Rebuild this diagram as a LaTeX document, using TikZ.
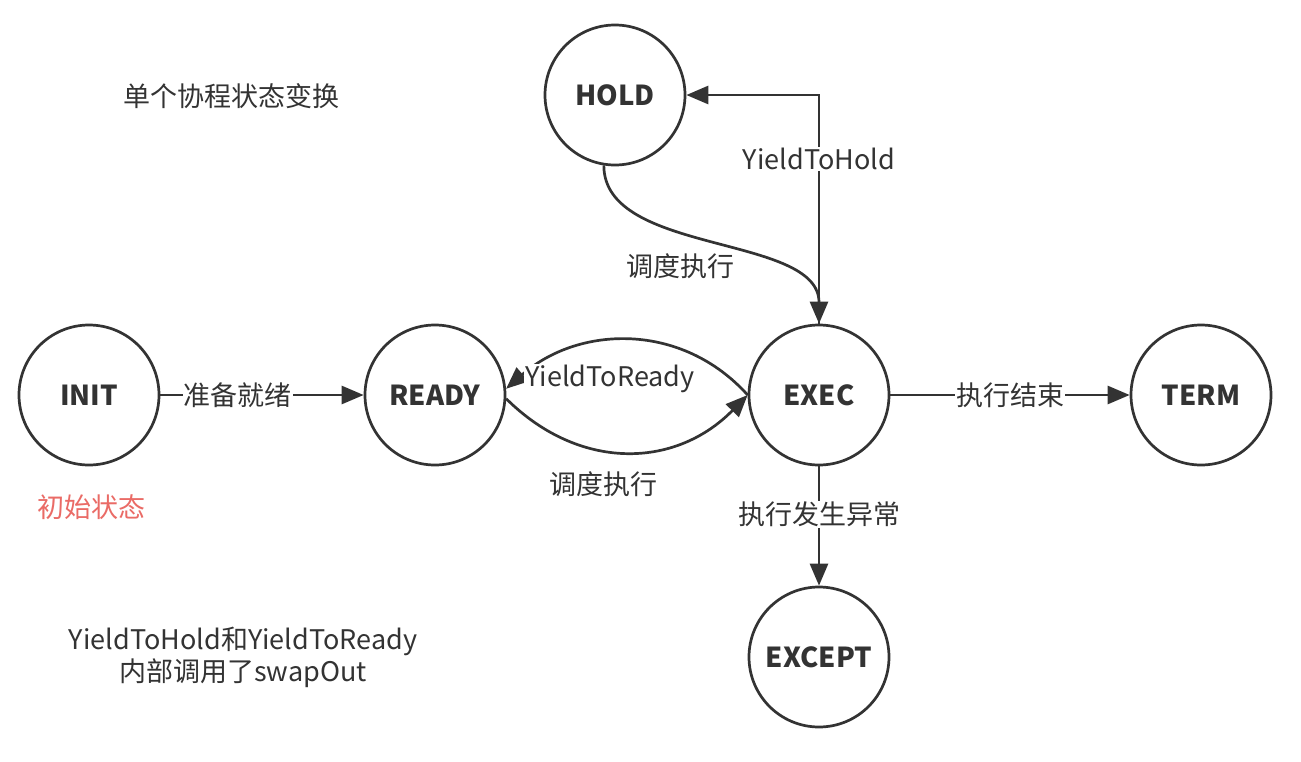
\documentclass[tikz,border=0pt]{standalone}
\usepackage{fontspec}
\setmainfont{Noto Sans CJK SC}
\usetikzlibrary{arrows.meta}
\definecolor{ink}{HTML}{333333}
\definecolor{redtxt}{HTML}{EA6B66}
\begin{document}
\begin{tikzpicture}[x=1pt,y=-1pt,
 state/.style={circle,draw=ink,line width=2.7pt,minimum size=140pt,inner sep=0pt,font=\fontsize{27.5}{30}\selectfont\bfseries,text=ink},
 conn/.style={draw=ink,line width=2.7pt,-{Triangle[length=22pt,width=18pt]}},
 lbl/.style={font=\fontsize{27}{32}\selectfont,text=ink,fill=white,inner sep=1pt},
 txt/.style={font=\fontsize{27}{32}\selectfont,text=ink,align=center}]
\useasboundingbox[fill=white] (0,0) rectangle (1301,761);
\node[state] (HOLD) at (615,95) {HOLD};
\node[state] (INIT) at (89,395) {INIT};
\node[state] (READY) at (435,395) {READY};
\node[state] (EXEC) at (819,395) {EXEC};
\node[state] (TERM) at (1201,395) {TERM};
\node[state] (EXCEPT) at (819,657) {EXCEPT};

\draw[conn] (INIT) -- node[lbl,pos=0.38]{准备就绪} (READY);
\draw[conn] (EXEC) -- node[lbl]{执行结束} (TERM);
\draw[conn] (EXEC) -- node[lbl,pos=0.4]{执行发生异常} (EXCEPT);
\draw[conn] (EXEC.north) |- node[lbl,pos=0.36]{YieldToHold} (HOLD.east);
\draw[conn] (HOLD.-99) .. controls +(0,90) and +(0,-90) .. (EXEC.north);
\draw[conn] (EXEC.west) .. controls (682,322) and (579,325) .. (READY.5);
\draw[conn] (READY.-3) .. controls (579,471) and (675,469) .. (EXEC.west);

\node[lbl] (lhold) at (680,266) {调度执行};
\node[lbl] (lyready) at (610,379) {YieldToReady};
\node[txt] (lsched) at (603,484) {调度执行};

\node[txt] (title) at (231,96) {单个协程状态变换};
\node[txt,text=redtxt] (initnote) at (91,507) {初始状态};
\node[txt] (note) at (243,657) {YieldToHold和YieldToReady\\内部调用了swapOut};
\end{tikzpicture}
\end{document}
